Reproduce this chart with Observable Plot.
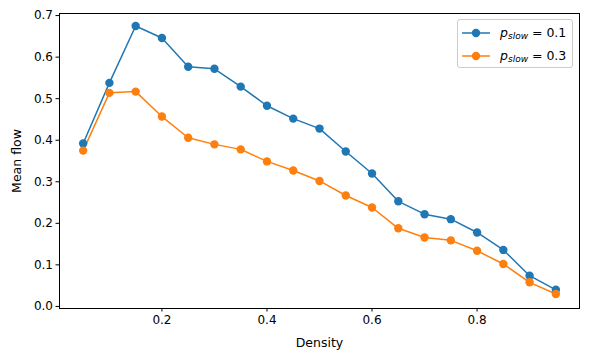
<!DOCTYPE html>
<html>
<head>
<meta charset="utf-8">
<script src="https://cdn.jsdelivr.net/npm/d3@7"></script>
<script src="https://cdn.jsdelivr.net/npm/@observablehq/plot@0.6"></script>
<style>
  html, body { margin: 0; padding: 0; background: #fff; }
  #wrap { position: relative; width: 589px; height: 358px; font-family: "DejaVu Sans", sans-serif; }
  #legend { position: absolute; left: 457px; top: 19px; width: 116px; height: 49px;
    border: 1px solid #cccccc; border-radius: 3px; background: rgba(255,255,255,0.8); box-sizing: border-box; }
  .row { position: absolute; left: 0; height: 16px; display: flex; align-items: center; }
  .row svg { margin-left: 4px; }
  .lab { margin-left: 10px; font-size: 12.5px; color: #000; white-space: nowrap; }
  .lab i { font-style: italic; }
  .lab sub { font-style: italic; font-size: 9px; vertical-align: -2px; }
</style>
</head>
<body>
<div id="wrap"></div>
<script>
const density = [0.05,0.10,0.15,0.20,0.25,0.30,0.35,0.40,0.45,0.50,0.55,0.60,0.65,0.70,0.75,0.80,0.85,0.90,0.95];
const flowSlow01 = [0.392,0.538,0.675,0.646,0.577,0.572,0.529,0.483,0.452,0.428,0.373,0.320,0.253,0.222,0.210,0.178,0.136,0.074,0.040];
const flowSlow03 = [0.375,0.514,0.517,0.457,0.406,0.390,0.378,0.349,0.327,0.302,0.267,0.238,0.188,0.166,0.159,0.134,0.102,0.058,0.030];
const seriesNames = ["0.1", "0.3"];
const seriesColors = ["#1f77b4", "#ff7f0e"];
const xTicks = [0.2, 0.4, 0.6, 0.8];
const yTicks = [0.0, 0.1, 0.2, 0.3, 0.4, 0.5, 0.6, 0.7];

const rows = [];
[flowSlow01, flowSlow03].forEach((vals, s) => {
  density.forEach((d, i) => rows.push({density: d, flow: vals[i], series: seriesNames[s]}));
});

const chart = Plot.plot({
  width: 589,
  height: 358,
  marginLeft: 59,
  marginRight: 10,
  marginTop: 13,
  marginBottom: 50,
  style: {fontFamily: "DejaVu Sans, sans-serif", fontSize: "12px", color: "#000", background: "#fff"},
  x: {domain: [0.005, 0.995]},
  y: {domain: [-0.005, 0.705]},
  color: {domain: seriesNames, range: seriesColors},
  marks: [
    Plot.axisX({ticks: xTicks, tickFormat: d3.format(".1f"), tickSize: 3.5, tickPadding: 3, label: null, fontSize: 12}),
    Plot.axisX({ticks: [], label: "Density", labelAnchor: "center", labelArrow: "none", labelOffset: 38, fontSize: 12.5}),
    Plot.axisY({ticks: yTicks, tickFormat: d3.format(".1f"), tickSize: 3.5, tickPadding: 3, label: null, fontSize: 12}),
    Plot.axisY({ticks: [], label: "Mean flow", labelAnchor: "center", labelArrow: "none", labelOffset: 47, fontSize: 12.5}),
    Plot.line(rows, {x: "density", y: "flow", z: "series", stroke: "series", strokeWidth: 1.5}),
    Plot.dot(rows, {x: "density", y: "flow", fill: "series", r: 4.2}),
    Plot.frame({stroke: "#000", strokeWidth: 1})
  ]
});

const wrap = document.getElementById("wrap");
wrap.appendChild(chart);

const legend = document.createElement("div");
legend.id = "legend";
seriesNames.forEach((name, i) => {
  const row = document.createElement("div");
  row.className = "row";
  row.style.top = (5 + i * 22.5) + "px";
  row.innerHTML = `<svg width="28" height="12"><line x1="0" y1="6" x2="28" y2="6" stroke="${seriesColors[i]}" stroke-width="1.5"/><circle cx="14" cy="6" r="4.2" fill="${seriesColors[i]}"/></svg>` +
    `<span class="lab"><i>p</i><sub>slow</sub> = ${name}</span>`;
  legend.appendChild(row);
});
wrap.appendChild(legend);
</script>
</body>
</html>
